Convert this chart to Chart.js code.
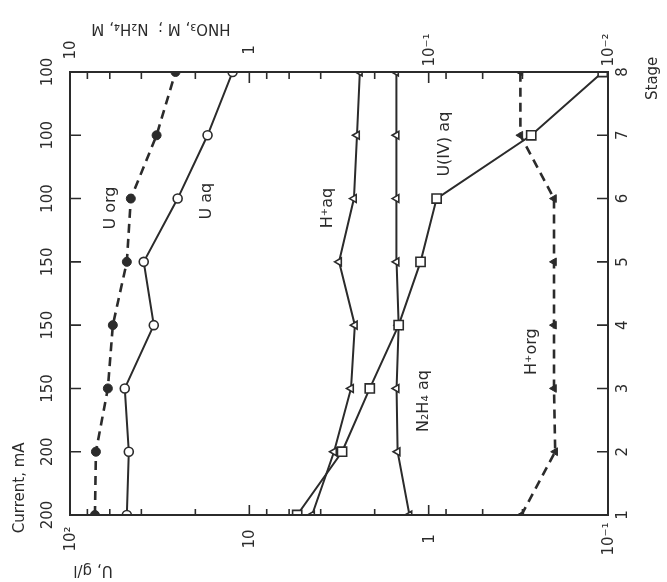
<!DOCTYPE html>
<html>
<head>
<meta charset="utf-8">
<script src="https://cdn.jsdelivr.net/npm/chart.js@4.4.1/dist/chart.umd.min.js"></script>
<style>
  html, body { margin: 0; padding: 0; background: #fff; }
  #wrap { width: 667px; height: 582px; position: relative; }
</style>
</head>
<body>
<div id="wrap"><canvas id="stageChart"></canvas></div>
<script>
// Ступени экстрактора и ток на каждой ступени
const stages = [1, 2, 3, 4, 5, 6, 7, 8];
const currentLabels = ['200', '200', '150', '150', '150', '100', '100', '100'];

// Уран, г/л (нижняя ось)
const uOrg = [72.6, 71.7, 61.5, 57.7, 48.2, 45.8, 32.9, 25.8];
const uAq = [48.2, 47.0, 49.5, 34.1, 38.8, 25.1, 17.1, 12.4];
const u4Aq = [5.41, 3.04, 2.13, 1.47, 1.11, 0.903, 0.268, 0.107];

// HNO3 и N2H4, М (верхняя ось)
const hAq = [0.447, 0.337, 0.271, 0.258, 0.316, 0.261, 0.251, 0.242];
const n2h4Aq = [0.128, 0.149, 0.151, 0.147, 0.151, 0.151, 0.151, 0.152];
const hOrg = [0.0304, 0.0197, 0.0200, 0.0200, 0.0200, 0.0200, 0.0308, 0.0308];

// Подписи осей
const bottomTicks = [[100, '10²'], [10, '10'], [1, '1'], [0.1, '10⁻¹']];
const topTicks = [[10, '10'], [1, '1'], [0.1, '10⁻¹'], [0.01, '10⁻²']];

const INK = '#2b2b2b';
const FONT = '"DejaVu Sans", sans-serif';

function toPoints(values) {
    return values.map((v, i) => ({x: v, y: stages[i]}));
}

function rotText(ctx, text, x, y, angle, size) {
    ctx.save();
    ctx.translate(x, y);
    ctx.rotate(angle);
    ctx.font = `${size}px ${FONT}`;
    ctx.fillStyle = INK;
    ctx.textAlign = 'center';
    ctx.textBaseline = 'middle';
    ctx.fillText(text, 0, 0);
    ctx.restore();
}

// Подписи кривых, координаты в единицах осей
const seriesLabels = [
    {text: 'U org', axis: 'x', value: 59.1, stage: 5.85},
    {text: 'U aq', axis: 'x', value: 17.2, stage: 5.96},
    {text: 'H⁺aq', axis: 'x', value: 3.64, stage: 5.85},
    {text: 'U(IV) aq', axis: 'x', value: 0.811, stage: 6.86},
    {text: 'N₂H₄ aq', axis: 'x', value: 1.06, stage: 2.80},
    {text: 'H⁺org', axis: 'x', value: 0.265, stage: 3.58}
];

const UP = -Math.PI / 2;

// Рамка, засечки и все повёрнутые подписи
const rotatedAxes = {
    id: 'rotatedAxes',
    afterDatasetsDraw(chart) {
        const ctx = chart.ctx;
        const area = chart.chartArea;
        const x = chart.scales.x;
        const x2 = chart.scales.x2;
        const y = chart.scales.y;

        ctx.save();
        ctx.strokeStyle = INK;
        ctx.lineWidth = 2;
        ctx.strokeRect(area.left, area.top, area.right - area.left, area.bottom - area.top);

        // засечки по ступеням слева и справа
        ctx.lineWidth = 1.6;
        stages.forEach(s => {
            if (s === 1 || s === 8) return;
            const py = y.getPixelForValue(s);
            ctx.beginPath();
            ctx.moveTo(area.left, py); ctx.lineTo(area.left + 11, py);
            ctx.moveTo(area.right, py); ctx.lineTo(area.right - 11, py);
            ctx.stroke();
        });

        // логарифмические засечки снизу и сверху
        const isMajor = v => Math.abs(Math.log10(v) - Math.round(Math.log10(v))) < 1e-6;
        x.ticks.forEach(t => {
            const px = x.getPixelForValue(t.value);
            if (px <= area.left + 1 || px >= area.right - 1) return;
            const len = isMajor(t.value) ? 10 : 6;
            ctx.beginPath();
            ctx.moveTo(px, area.bottom); ctx.lineTo(px, area.bottom - len);
            ctx.stroke();
        });
        x2.ticks.forEach(t => {
            const px = x2.getPixelForValue(t.value);
            if (px <= area.left + 1 || px >= area.right - 1) return;
            const len = isMajor(t.value) ? 11 : 7;
            ctx.beginPath();
            ctx.moveTo(px, area.top); ctx.lineTo(px, area.top + len);
            ctx.stroke();
        });
        ctx.restore();

        bottomTicks.forEach(([v, label]) => {
            rotText(ctx, label, x.getPixelForValue(v) + 1, area.bottom + 24, UP, 15);
        });
        topTicks.forEach(([v, label]) => {
            rotText(ctx, label, x2.getPixelForValue(v) + 1, area.top - 22, UP, 15);
        });
        stages.forEach((s, i) => {
            const py = y.getPixelForValue(s);
            rotText(ctx, String(s), area.right + 15, py, UP, 15);
            rotText(ctx, currentLabels[i], area.left - 22, py, UP, 15);
        });

        rotText(ctx, 'Stage', area.right + 45, y.getPixelForValue(7.9), UP, 15);
        rotText(ctx, 'Current, mA', 20, y.getPixelForValue(1.43), UP, 15);
        rotText(ctx, 'U, g/l', 93, area.bottom + 55, Math.PI, 15);
        rotText(ctx, 'HNO₃, M ;  N₂H₄, M', 161, 28, Math.PI, 15);

        seriesLabels.forEach(l => {
            rotText(ctx, l.text, chart.scales[l.axis].getPixelForValue(l.value), y.getPixelForValue(l.stage), UP, 16);
        });
    }
};

const solid = {borderColor: INK, borderWidth: 2, showLine: true, pointBorderColor: INK, pointBorderWidth: 1.6};
const dashed = {borderColor: INK, borderWidth: 2.6, borderDash: [9, 6], showLine: true, pointBorderColor: INK, pointBorderWidth: 1};

new Chart(document.getElementById('stageChart'), {
    type: 'scatter',
    data: {
        datasets: [
            {...dashed, label: 'U org', data: toPoints(uOrg), xAxisID: 'x', yAxisID: 'y',
                pointStyle: 'circle', pointRadius: 4.5, pointBackgroundColor: INK},
            {...solid, label: 'U aq', data: toPoints(uAq), xAxisID: 'x', yAxisID: 'y',
                pointStyle: 'circle', pointRadius: 4.5, pointBackgroundColor: '#fff'},
            {...solid, label: 'U(IV) aq', data: toPoints(u4Aq), xAxisID: 'x', yAxisID: 'y',
                pointStyle: 'rect', pointRadius: 6.5, pointBackgroundColor: '#fff'},
            {...solid, label: 'H+ aq', data: toPoints(hAq), xAxisID: 'x2', yAxisID: 'y',
                pointStyle: 'triangle', pointRotation: -90, pointRadius: 4.5, pointBackgroundColor: '#fff'},
            {...solid, label: 'N2H4 aq', data: toPoints(n2h4Aq), xAxisID: 'x2', yAxisID: 'y',
                pointStyle: 'triangle', pointRotation: -90, pointRadius: 4.5, pointBackgroundColor: '#fff'},
            {...dashed, label: 'H+ org', data: toPoints(hOrg), xAxisID: 'x2', yAxisID: 'y',
                pointStyle: 'triangle', pointRotation: -90, pointRadius: 4.5, pointBackgroundColor: INK}
        ]
    },
    options: {
        responsive: true,
        maintainAspectRatio: false,
        animation: false,
        layout: {padding: {left: 70, right: 59, top: 72, bottom: 67}},
        plugins: {legend: {display: false}, tooltip: {enabled: false}},
        scales: {
            x: {type: 'logarithmic', position: 'bottom', min: 0.1, max: 100, reverse: true, display: false},
            x2: {type: 'logarithmic', position: 'top', min: 0.01, max: 10, reverse: true, display: false},
            y: {type: 'linear', position: 'right', min: 1, max: 8, display: false}
        }
    },
    plugins: [rotatedAxes]
});
</script>
</body>
</html>
